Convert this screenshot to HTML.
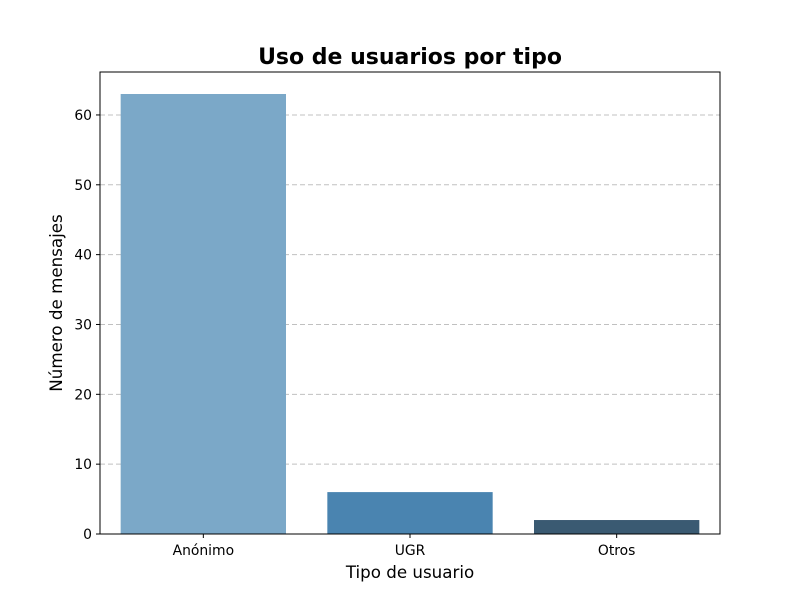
<!DOCTYPE html>
<html><head><meta charset="utf-8"><style>
body{margin:0;background:#fff;}
svg text{font-family:"DejaVu Sans","Liberation Sans",sans-serif;}
</style></head><body>
<svg id="chart" width="800" height="600" viewBox="0 0 800 600">
<rect width="800" height="600" fill="#fff"/>
<text x="410" y="64" text-anchor="middle" font-size="22" font-weight="bold">Uso de usuarios por tipo</text>
<g id="grid"></g>
<g id="bars"></g>
<g id="yticks"></g>
<g id="xticks"></g>
<rect x="100" y="72" width="620" height="462" fill="none" stroke="#000" stroke-width="1"/>
<text x="410" y="578" text-anchor="middle" font-size="16.7">Tipo de usuario</text>
<text transform="translate(62,303) rotate(-90)" text-anchor="middle" font-size="16.7">Número de mensajes</text>
</svg>
<script>
const categories = ["Anónimo","UGR","Otros"];
const values = [63, 6, 2];
const colors = ["#7ba8c8","#4a84b0","#3a5a72"];
const yTicks = [0,10,20,30,40,50,60];
const L=100,R=720,T=72,B=534,yMax=66.15;
const NS="http://www.w3.org/2000/svg";
const y=v=>B-(v/yMax)*(B-T);
const band=(R-L)/categories.length;
const x=i=>L+band*(i+0.5);
function mk(tag,attrs,parent){const e=document.createElementNS(NS,tag);for(const k in attrs)e.setAttribute(k,attrs[k]);document.getElementById(parent).appendChild(e);return e;}
yTicks.forEach(t=>{
  if(t>0){const g=mk("line",{x1:L,x2:R,y1:y(t),y2:y(t),stroke:"#c0c0c0","stroke-dasharray":"5,3","stroke-width":1},"grid");
  
  }
  const tk=mk("line",{x1:L-4,x2:L,y1:y(t),y2:y(t),stroke:"#000"},"yticks");
  
  
  const lb=mk("text",{x:L-8,y:y(t)+5,"text-anchor":"end","font-size":13.9},"yticks");
  lb.textContent=t;
  
  
});
categories.forEach((c,i)=>{
  const w=band*0.8;
  const r=mk("rect",{x:x(i)-w/2,y:y(values[i]),width:w,height:B-y(values[i]),fill:colors[i]},"bars");
  
  
  const tk=mk("line",{x1:x(i),x2:x(i),y1:B,y2:B+4,stroke:"#000"},"xticks");
  
  
  const lb=mk("text",{x:x(i),y:B+21,"text-anchor":"middle","font-size":13.9},"xticks");
  lb.textContent=c;
  
  
});
</script>
</body></html>
